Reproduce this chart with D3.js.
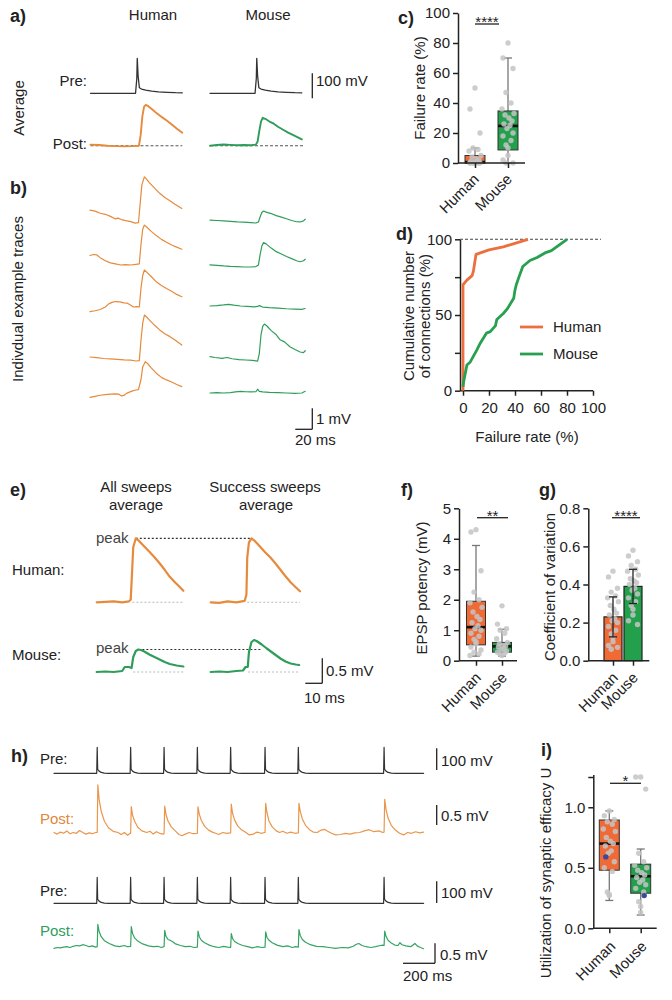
<!DOCTYPE html>
<html><head><meta charset="utf-8">
<script src="https://cdn.jsdelivr.net/npm/d3@7"></script>
<style>
body{margin:0;background:#fff;}
svg text{font-family:"Liberation Sans",Arial,Helvetica,sans-serif;fill:#222;}
</style></head><body>
<svg id="fig" width="672" height="1000"></svg>
<script>
// ---------------- DATA ----------------
const categories = ['Human','Mouse'];

// a) average traces [ms, mV]
const aPreHuman = [[0,0],[20,0],[40,0],[53,0],[54.5,60],[55,140],[56,70],[57.5,22],[60,17],[65,13],[72,9],[80,6],[90,4],[100,2.5],[108,2]];
const aPreMouse = [[0,0],[20,0],[40,0],[53,0],[54.5,60],[55,140],[56,70],[57.5,22],[60,17],[65,13],[72,9],[80,6],[90,4],[100,2.5],[108,2]];
const aPostHuman = [[0,0.05],[10,0.03],[20,0],[30,-0.02],[40,-0.03],[50,-0.02],[57,0],[59,0.5],[61,1.4],[63,1.85],[65,1.94],[68,1.88],[72,1.75],[78,1.54],[84,1.36],[90,1.19],[96,1.0],[102,0.8],[108,0.62]];
const aPostMouse = [[0,0],[8,0.03],[16,0.06],[24,0.04],[32,0.02],[40,0.03],[48,0.02],[54,0.05],[56,0.2],[58,0.7],[60,1.15],[62,1.33],[65,1.28],[70,1.15],[75,1.05],[80,0.9],[86,0.76],[92,0.62],[98,0.5],[104,0.38],[108,0.3]];

// b) individual traces [ms, mV]
const bHuman1 = [[0,0.6],[6,0.55],[12,0.45],[18,0.4],[24,0.3],[30,0.18],[33,0.22],[37,0.15],[42,0.1],[48,0.05],[53,-0.02],[57,0],[59,0.9],[61,1.8],[64,2.18],[66,2.1],[70,1.9],[76,1.65],[82,1.4],[88,1.2],[94,1.05],[100,0.88],[108,0.68]];
const bHuman2 = [[0,0.45],[4,0.5],[8,0.48],[12,0.35],[18,0.2],[24,0.1],[30,0.05],[36,0],[42,0.02],[48,0],[54,0.03],[58,0.05],[60,1.0],[62,1.7],[64,1.9],[67,1.8],[72,1.6],[78,1.4],[84,1.22],[90,1.08],[96,0.95],[102,0.85],[108,0.75]];
const bHuman3 = [[0,-0.22],[6,-0.18],[12,-0.12],[18,0],[22,0.15],[26,0.22],[30,0.26],[35,0.24],[40,0.2],[44,0.18],[48,0.08],[51,0],[55,0.02],[58,0],[60,0.9],[62,1.5],[64,1.76],[67,1.65],[72,1.45],[78,1.2],[84,1.02],[90,0.88],[96,0.75],[102,0.6],[108,0.49]];
const bHuman4 = [[0,0.19],[8,0.16],[16,0.12],[24,0.1],[32,0.08],[40,0.05],[48,0.04],[54,0],[58,0.02],[60,1.0],[62,1.8],[64,2.19],[66,2.12],[70,1.95],[76,1.7],[82,1.48],[88,1.3],[94,1.16],[100,1.0],[108,0.76]];
const bHuman5 = [[0,-0.35],[6,-0.3],[12,-0.25],[18,-0.22],[24,-0.2],[30,-0.18],[34,-0.2],[37,-0.28],[40,-0.26],[43,-0.16],[47,-0.09],[51,-0.03],[54,0],[57,0.02],[60,0.5],[62,1.1],[65,1.35],[68,1.25],[72,1.05],[78,0.8],[84,0.6],[90,0.48],[96,0.38],[102,0.26],[108,0.16]];
const bMouse1 = [[0,0.14],[8,0.12],[16,0.1],[24,0.08],[32,0.05],[40,0.04],[48,0.02],[54,0],[57,0.05],[59,0.3],[61,0.5],[63,0.57],[66,0.52],[72,0.45],[78,0.35],[84,0.28],[90,0.2],[96,0.12],[102,0.06],[106,0.05],[110,0.1],[112,0.18]];
const bMouse2 = [[0,0.1],[8,0.08],[16,0.05],[24,0.03],[32,0.02],[40,0],[48,0],[54,0.02],[57,0.1],[59,0.6],[61,1.0],[63,1.16],[66,1.1],[72,0.9],[78,0.73],[84,0.62],[90,0.5],[96,0.4],[102,0.3],[106,0.25],[110,0.3],[112,0.37]];
const bMouse3 = [[0,0],[8,0.02],[16,0.05],[22,0.08],[28,0.04],[36,0],[44,-0.02],[52,-0.04],[56,-0.02],[58,0.02],[62,-0.05],[70,-0.08],[80,-0.1],[90,-0.13],[100,-0.15],[108,-0.16],[112,-0.12]];
const bMouse4 = [[0,0.16],[6,0.12],[14,0.08],[20,0.12],[26,0.06],[34,0.02],[42,0],[50,-0.02],[56,-0.05],[58,0.3],[60,1.2],[62,1.6],[64,1.71],[67,1.62],[72,1.4],[78,1.2],[82,0.98],[88,0.85],[94,0.63],[100,0.5],[106,0.38],[110,0.35],[112,0.44]];
const bMouse5 = [[0,0],[8,0.02],[16,0],[24,0.02],[30,0.05],[36,0.08],[42,0.06],[48,0.05],[54,0.06],[56,0.18],[58,0.08],[62,0.05],[70,0.03],[80,0.02],[90,0],[100,-0.02],[108,0],[112,0.08]];

// c) failure rate (%)
const cHumanPts = [50,36,20,10,9,8,5,4,3,2,1,1,0,0,0,0,0,0,0,0];
const cMousePts = [80,70,63,47,40,36,33,32,30,28,26,25,23,20,18,15,12,10,5,2,0,0];
const cMin = [0,0], cQ1 = [0,8.7], cMed = [0.6,24.7], cQ3 = [5,34.7], cMax = [10,70];

// d) cumulative distributions [failure %, cumulative %]
const dHuman = [[0,0],[0,70],[3,73],[7,76],[8,79],[10,90],[20,93],[31,95],[50,100]];
const dMouse = [[0,2.6],[0.5,6],[3,17],[5.6,19],[10.7,27],[13,31],[18,38],[21,39],[25,43],[26,47],[31,51],[34,54],[39,61],[40,66.5],[41,70],[43,75],[46,82],[51.5,86],[57,88],[63,91],[68,92.5],[72,95],[80,100]];
const dXTicks = [0,20,40,60,80,100];
const dYTicks = [0,25,50,75,100];

// e) averages [ms, mV]
const eHumanAll = [[0,0],[5,0.01],[10,0.02],[15,0],[19,0.02],[20,0.05],[20.8,0.6],[21.5,1.1],[23,1.28],[24.5,1.24],[27,1.15],[31,1.01],[34,0.9],[37,0.78],[40,0.65],[43,0.51],[46,0.4],[49,0.3],[51,0.23]];
const eHumanSucc = [[0,0],[5,-0.01],[10,0.02],[15,0],[20,0.03],[21,0.15],[21.5,0.9],[22.5,1.2],[24,1.28],[25.5,1.24],[28,1.15],[32,1.0],[35,0.9],[38,0.78],[41,0.65],[44,0.52],[47,0.4],[50,0.3],[52.5,0.22]];
const eMouseAll = [[0,0],[5,0.01],[10,0],[15,0.02],[16.5,0.1],[19,0.1],[20.5,0.08],[21.5,0.3],[23,0.42],[24.5,0.45],[26,0.44],[28,0.41],[31,0.35],[34,0.3],[37,0.25],[40,0.2],[43,0.16],[47,0.13],[51,0.11]];
const eMouseSucc = [[0,0],[5,0.01],[10,0],[15,0.02],[19,0.03],[20.5,0.1],[21.8,0.1],[22.5,0.4],[24,0.6],[25.5,0.64],[27,0.62],[30,0.55],[33,0.47],[37,0.37],[41,0.27],[44,0.21],[47,0.17],[50,0.15],[52,0.14]];

// f) EPSP potency (mV)
const fHumanPts = [4.3,4.22,2.95,2.25,2.0,1.9,1.75,1.6,1.45,1.35,1.25,1.15,1.05,1.0,0.9,0.8,0.7,0.62,0.55,0.45,0.35,0.28,0.22,0.17];
const fMousePts = [1.8,1.2,1.05,1.0,0.9,0.72,0.6,0.55,0.5,0.48,0.45,0.4,0.36,0.32,0.28,0.25,0.2,0.17];
const fMin = [0.15,0.15], fQ1 = [0.52,0.28], fMed = [1.1,0.47], fQ3 = [1.95,0.6], fMax = [3.78,1.03];

// g) coefficient of variation
const gHumanPts = [0.47,0.44,0.38,0.36,0.34,0.33,0.31,0.29,0.27,0.25,0.24,0.22,0.21,0.2,0.18,0.16,0.14,0.12,0.1,0.08,0.07,0.06];
const gMousePts = [0.58,0.55,0.52,0.5,0.48,0.47,0.45,0.43,0.42,0.41,0.4,0.38,0.37,0.35,0.33,0.31,0.29,0.27,0.24,0.21,0.19];
const gMean = [0.23,0.39], gSD = [0.105,0.09];

// h) trains [ms, mV]
const hPre = [[0,0],
 [267,0],[270,120],[273,18],[282,10],[295,4],[315,1],[340,0],
 [476,0],[479,120],[482,18],[491,10],[504,4],[524,1],[549,0],
 [685,0],[688,120],[691,18],[700,10],[713,4],[733,1],[758,0],
 [893,0],[896,120],[899,18],[908,10],[921,4],[941,1],[966,0],
 [1101,0],[1104,120],[1107,18],[1116,10],[1129,4],[1149,1],[1174,0],
 [1316,0],[1319,120],[1322,18],[1331,10],[1344,4],[1364,1],[1389,0],
 [1524,0],[1527,120],[1530,18],[1539,10],[1552,4],[1572,1],[1597,0],
 [2060,0],[2063,120],[2066,18],[2075,10],[2088,4],[2108,1],[2133,0],[2310,0]];
const hPostHuman = [[0,0.02],[20,-0.02],[40,0.03],[60,0],[80,0.06],[100,-0.01],[120,0.02],[140,0],[160,0.07],[180,0.02],[200,-0.02],[220,0.01],[240,-0.01],[260,0.02],
 [270,0.02],[274,1.21],[282,0.85],[295,0.55],[315,0.3],[340,0.14],[370,0.05],[400,0.02],[420,-0.03],[440,0.02],[460,-0.05],[476,0],
 [479,0],[483,0.67],[491,0.45],[504,0.3],[524,0.15],[549,0.06],[580,0.02],[600,0.05],[620,-0.02],[640,0.04],[660,0],[685,-0.02],
 [688,0],[692,0.68],[700,0.47],[713,0.3],[733,0.16],[758,0.06],[780,-0.03],[800,-0.06],[820,-0.02],[845,0.02],[870,-0.01],[893,0],
 [896,0],[900,0.66],[908,0.48],[921,0.32],[941,0.18],[966,0.08],[990,0.03],[1010,0],[1030,-0.03],[1055,0.02],[1080,0],[1101,0.01],
 [1104,0.01],[1108,0.73],[1116,0.5],[1129,0.33],[1149,0.18],[1174,0.08],[1200,0.02],[1220,-0.04],[1245,-0.02],[1270,0.03],[1295,0],[1316,0.02],
 [1319,0.02],[1323,0.75],[1331,0.52],[1344,0.3],[1364,0.16],[1389,0.06],[1410,0.02],[1430,0.05],[1455,0],[1480,0.03],[1505,0],[1524,0.01],
 [1527,0.01],[1531,0.75],[1539,0.55],[1552,0.36],[1572,0.2],[1597,0.09],[1620,0.03],[1645,0.02],[1670,0.08],[1690,0.1],[1710,0.05],[1735,0],[1760,-0.04],[1790,-0.03],[1820,0],[1850,-0.02],[1880,0.01],[1910,0.02],[1940,0.06],[1970,0.09],[2000,0.04],[2030,0.06],[2055,0.02],
 [2063,0.03],[2067,0.85],[2075,0.6],[2088,0.38],[2108,0.2],[2133,0.08],[2160,0],[2185,-0.04],[2210,0.02],[2235,0],[2260,0.04],[2285,0.01],[2310,0.03]];
const hPostMouse = [[0,-0.02],[20,0],[40,-0.01],[60,0.01],[80,0.02],[100,0],[120,0.03],[140,0.05],[160,0.04],[180,0.07],[200,0.05],[220,0.02],[240,0.04],[260,0.01],
 [270,0.02],[274,0.58],[282,0.4],[295,0.27],[315,0.17],[345,0.1],[380,0.04],[410,0.02],[440,0.05],[460,0.02],[479,0.03],
 [483,0.52],[491,0.35],[504,0.24],[524,0.16],[554,0.09],[590,0.04],[620,0.02],[650,0.03],[670,0],[688,0.02],
 [692,0.43],[700,0.28],[713,0.2],[725,0.18],[740,0.15],[760,0.09],[790,0.05],[820,0.02],[850,0.03],[875,0],[896,0.01],
 [900,0.41],[908,0.27],[921,0.18],[941,0.12],[971,0.06],[1000,0.02],[1030,0],[1060,0.03],[1085,0.01],[1104,0],
 [1108,0.35],[1116,0.22],[1129,0.15],[1149,0.1],[1179,0.05],[1210,0.02],[1240,-0.01],[1270,0.02],[1300,0],[1319,0.01],
 [1323,0.39],[1331,0.25],[1344,0.18],[1364,0.12],[1394,0.06],[1430,0.02],[1460,0.04],[1490,0],[1510,0.02],[1527,0.01],
 [1531,0.45],[1539,0.3],[1552,0.2],[1572,0.13],[1602,0.07],[1640,0.03],[1680,0.02],[1720,0],[1760,-0.02],[1800,0],[1840,-0.01],[1870,0.03],[1890,0.08],[1905,0.1],[1925,0.05],[1950,0.02],[1980,0],[2010,0.02],[2040,0.05],[2055,0.06],[2063,0.05],
 [2067,0.41],[2075,0.28],[2088,0.18],[2108,0.11],[2130,0.06],[2150,0.05],[2162,0.12],[2175,0.07],[2200,0.04],[2230,0.02],[2256,0.1],[2270,0.04],[2290,0],[2310,-0.03]];

// i) utilization of synaptic efficacy U
const iHumanPts = [0.97,0.93,0.9,0.88,0.86,0.82,0.8,0.75,0.72,0.7,0.68,0.64,0.62,0.55,0.5,0.47,0.3,0.28,0.27];
const iMousePts = [1.25,1.25,1.15,0.62,0.55,0.52,0.5,0.48,0.46,0.44,0.42,0.4,0.38,0.36,0.33,0.3,0.22,0.18,0.13];
const iBlue = [0.59,0.27];
const iMin = [0.23,0.11], iQ1 = [0.48,0.29], iMed = [0.70,0.43], iQ3 = [0.895,0.53], iMax = [0.97,0.655];

// ---------------- DRAWING ----------------
const svg = d3.select('#fig');
const FF = '"Liberation Sans",Arial,Helvetica,sans-serif';
const ORANGE_T = '#e68a3b', GREEN_T = '#2f9d5a', DARK = '#333';
const FILL = {Human:'#f06a35', Mouse:'#22a04b'};
const CDFC = {Human:'#ec6f3d', Mouse:'#27a04f'};
const JIT = [0,-5,5,-2,3,-6,6,-3,1,4,-4,2,-1,5,-5,3,-2,0];

function txt(x,y,s,o={}){
  const t = svg.append('text').attr('x',x).attr('y',y).text(s).style('font-size',(o.size||15)+'px');
  if(o.anchor) t.attr('text-anchor',o.anchor);
  if(o.bold) t.style('font-weight','bold');
  if(o.fill) t.style('fill',o.fill);
  if(o.rot!=null) t.attr('transform',`rotate(${o.rot},${x},${y})`);
  return t;
}
function line(x1,y1,x2,y2,c,w,dash){
  const l = svg.append('line').attr('x1',x1).attr('y1',y1).attr('x2',x2).attr('y2',y2).attr('stroke',c).attr('stroke-width',w);
  if(dash) l.attr('stroke-dasharray',dash);
  return l;
}
function trace(data,xs,ys,color,w){
  svg.append('path').datum(data)
    .attr('d', d3.line().x(d=>xs(d[0])).y(d=>ys(d[1])))
    .attr('fill','none').attr('stroke',color).attr('stroke-width',w)
    .attr('stroke-linejoin','round').attr('stroke-linecap','round');
}
function styleAxis(g){
  g.attr('font-family',FF).attr('font-size',15);
  g.select('.domain').attr('stroke','#222').attr('stroke-width',1.5);
  g.selectAll('.tick line').attr('stroke','#222').attr('stroke-width',1.5);
  g.selectAll('.tick text').style('fill','#222');
}
function leftAxis(y,x,ticks,fmt){
  const g = svg.append('g').attr('transform',`translate(${x},0)`)
    .call(d3.axisLeft(y).tickValues(ticks).tickFormat(fmt).tickSize(5).tickSizeOuter(0).tickPadding(3));
  styleAxis(g); return g;
}
function catAxis(xs,y0,xStart,xEnd,lab){
  const g = svg.append('g').attr('transform',`translate(0,${y0})`)
    .call(d3.axisBottom(xs).tickSize(5).tickSizeOuter(0).tickFormat(''));
  g.select('.domain').remove();
  styleAxis(g);
  line(xStart,y0,xEnd,y0,'#222',1.5);
  categories.forEach(c=>{
    svg.append('text').attr('transform',`translate(${xs(c)+lab[0]},${y0+lab[1]}) rotate(-45)`)
      .attr('text-anchor','end').style('font-size','15px').text(c);
  });
}
function points(xs,y,c,vals,spread){
  svg.append('g').selectAll('circle').data(vals).join('circle')
    .attr('cx',(d,i)=>xs(c)+JIT[i%JIT.length]*spread).attr('cy',d=>y(d)).attr('r',2.7)
    .attr('fill','#c4c4c4').attr('opacity',0.85);
}
function boxes(xs,y,mn,q1,md,q3,mx,w){
  categories.forEach((c,i)=>{
    const cx = xs(c);
    line(cx,y(mn[i]),cx,y(mx[i]),'#777',1.3);
    line(cx-4,y(mx[i]),cx+4,y(mx[i]),'#777',1.3);
    line(cx-4,y(mn[i]),cx+4,y(mn[i]),'#777',1.3);
    svg.append('rect').attr('x',cx-w/2).attr('y',y(q3[i])).attr('width',w)
      .attr('height',Math.max(1,y(q1[i])-y(q3[i]))).attr('fill',FILL[c]).attr('stroke','#333').attr('stroke-width',1);
    line(cx-w/2,y(md[i]),cx+w/2,y(md[i]),'#111',2.6);
  });
}
function sig(x1,x2,yy,s){
  line(x1,yy,x2,yy,'#222',1.3);
  txt((x1+x2)/2,yy+3,s,{anchor:'middle',size:15});
}

// ===== a) =====
txt(10,22,'a)',{bold:true,size:18});
txt(153,20,'Human',{anchor:'middle'});
txt(268,20,'Mouse',{anchor:'middle'});
txt(24,108,'Average',{anchor:'middle',rot:-90});
txt(87,86,'Pre:',{anchor:'end'});
txt(87,149,'Post:',{anchor:'end'});
const aXH = d3.scaleLinear().domain([0,108]).range([90.5,182.3]);
const aXM = d3.scaleLinear().domain([0,108]).range([210,301.8]);
const aYPre = d3.scaleLinear().domain([0,100]).range([93.3,68.3]);
const aYPost = d3.scaleLinear().domain([0,1]).range([145.7,124.7]);
line(aXH(0),aYPost(0),aXH(108),aYPost(0),'#555',1.1,'3,2');
line(aXM(0),aYPost(0),aXM(110),aYPost(0),'#555',1.1,'3,2');
trace(aPreHuman,aXH,aYPre,DARK,1.3);
trace(aPreMouse,aXM,aYPre,DARK,1.3);
trace(aPostHuman,aXH,aYPost,ORANGE_T,1.9);
trace(aPostMouse,aXM,aYPost,GREEN_T,1.9);
line(312.3,aYPre(-20),312.3,aYPre(80),'#222',1.3);
txt(316,86,'100 mV');

// ===== b) =====
txt(10,194,'b)',{bold:true,size:18});
txt(23,299,'Indivdual example traces',{anchor:'middle',rot:-90});
const bXH = d3.scaleLinear().domain([0,108]).range([90,181.8]);
const bXM = d3.scaleLinear().domain([0,112]).range([210,305.2]);
const rowH = [222.7,265,307,361,390], rowM = [223,267,306,360,393];
[bHuman1,bHuman2,bHuman3,bHuman4,bHuman5].forEach((d,i)=>{
  trace(d,bXH,d3.scaleLinear().domain([0,1]).range([rowH[i],rowH[i]-21]),ORANGE_T,1.2);
});
[bMouse1,bMouse2,bMouse3,bMouse4,bMouse5].forEach((d,i)=>{
  trace(d,bXM,d3.scaleLinear().domain([0,1]).range([rowM[i],rowM[i]-21]),GREEN_T,1.2);
});
const bYS = d3.scaleLinear().domain([0,1]).range([429.3,408.3]);
line(312.3,bYS(0),312.3,bYS(1),'#222',1.3);
line(312.3-(bXH(20)-bXH(0)),bYS(0),312.3,bYS(0),'#222',1.3);
txt(316,424,'1 mV');
txt(295,445,'20 ms');

// ===== c) =====
txt(398,24,'c)',{bold:true,size:18});
const cY = d3.scaleLinear().domain([0,100]).range([163,13]);
const cX = d3.scalePoint().domain(categories).range([475,508]);
boxes(cX,cY,cMin,cQ1,cMed,cQ3,cMax,20);
points(cX,cY,'Human',cHumanPts,1);
points(cX,cY,'Mouse',cMousePts,1);
leftAxis(cY,458,[0,20,40,60,80,100],d3.format('d'));
catAxis(cX,163,458,525,[5,17]);
txt(425,88,'Failure rate (%)',{anchor:'middle',rot:-90});
sig(475,499,24,'****');

// ===== d) =====
txt(396,240,'d)',{bold:true,size:18});
const dX = d3.scaleLinear().domain([0,100]).range([463,593]);
const dY = d3.scaleLinear().domain([0,100]).range([390.7,239.3]);
line(460,dY(100),601,dY(100),'#444',1.1,'3,2');
const gdY = svg.append('g').attr('transform','translate(460,0)')
  .call(d3.axisLeft(dY).tickValues(dYTicks).tickFormat(d=>d%50===0?d:'').tickSize(5).tickSizeOuter(0).tickPadding(3));
styleAxis(gdY);
const gdX = svg.append('g').attr('transform',`translate(0,${dY(0)})`)
  .call(d3.axisBottom(dX).tickValues(dXTicks).tickSize(5).tickSizeOuter(0).tickPadding(7));
styleAxis(gdX);
gdX.select('.domain').attr('d',`M460,0H593`);
const dLine = d3.line().x(d=>dX(d[0])).y(d=>dY(d[1]));
svg.append('path').datum(dHuman).attr('d',dLine).attr('fill','none').attr('stroke',CDFC.Human).attr('stroke-width',2.8).attr('stroke-linejoin','round');
svg.append('path').datum(dMouse).attr('d',dLine).attr('fill','none').attr('stroke',CDFC.Mouse).attr('stroke-width',2.8).attr('stroke-linejoin','round');
line(520,327,543,327,CDFC.Human,2.8); txt(553,332,'Human');
line(520,354,543,354,CDFC.Mouse,2.8); txt(553,359,'Mouse');
txt(414,316,'Cumulative number',{anchor:'middle',rot:-90});
txt(430,316,'of connections (%)',{anchor:'middle',rot:-90});
txt(527,442,'Failure rate (%)',{anchor:'middle'});

// ===== e) =====
txt(10,496,'e)',{bold:true,size:18});
txt(136,492,'All sweeps',{anchor:'middle'});
txt(136,510,'average',{anchor:'middle'});
txt(265,492,'Success sweeps',{anchor:'middle'});
txt(266,510,'average',{anchor:'middle'});
txt(12,575,'Human:');
txt(12,660,'Mouse:');
const eXA = d3.scaleLinear().domain([0,10]).range([96.7,113.7]);
const eXS = d3.scaleLinear().domain([0,10]).range([210.7,227.7]);
const eYH = d3.scaleLinear().domain([0,1]).range([602.3,552.3]);
const eYM = d3.scaleLinear().domain([0,1]).range([672,622]);
line(eXA(21),eYH(0),eXA(51),eYH(0),'#bbb',1.1,'2,2');
line(eXS(21.5),eYH(0),eXS(52.5),eYH(0),'#bbb',1.1,'2,2');
line(eXA(21.5),eYM(0),eXA(51),eYM(0),'#bbb',1.1,'2,2');
line(eXS(22),eYM(0),eXS(52),eYM(0),'#bbb',1.1,'2,2');
line(eXA(23),eYH(1.28),eXS(24),eYH(1.28),'#333',1.2,'2,2');
line(eXA(24.5),eYM(0.45),eXS(30),eYM(0.45),'#333',1.2,'2,2');
trace(eHumanAll,eXA,eYH,ORANGE_T,2.2);
trace(eHumanSucc,eXS,eYH,ORANGE_T,2.2);
trace(eMouseAll,eXA,eYM,GREEN_T,2.2);
trace(eMouseSucc,eXS,eYM,GREEN_T,2.2);
txt(96,543,'peak',{fill:'#444'});
txt(96,653,'peak',{fill:'#444'});
const eYS = d3.scaleLinear().domain([0,0.5]).range([683.3,658.3]);
line(322.3,eYS(0),322.3,eYS(0.5),'#222',1.3);
line(322.3-(eXA(10)-eXA(0)),eYS(0),322.3,eYS(0),'#222',1.3);
txt(326,676,'0.5 mV');
txt(304,703,'10 ms');

// ===== f) =====
txt(401,496,'f)',{bold:true,size:18});
const fY = d3.scaleLinear().domain([0,5]).range([660.7,508.3]);
const fX = d3.scalePoint().domain(categories).range([476,502]);
boxes(fX,fY,fMin,fQ1,fMed,fQ3,fMax,19);
points(fX,fY,'Human',fHumanPts,1);
points(fX,fY,'Mouse',fMousePts,0.9);
leftAxis(fY,459,[0,1,2,3,4,5],d3.format('d'));
catAxis(fX,660.7,459,517,[6,18]);
txt(427,588,'EPSP potency (mV)',{anchor:'middle',rot:-90});
sig(477,508,517.7,'**');

// ===== g) =====
txt(539,496,'g)',{bold:true,size:18});
const gY = d3.scaleLinear().domain([0,0.8]).range([660.7,508.3]);
const gX = d3.scalePoint().domain(categories).range([613,633]);
categories.forEach((c,i)=>{
  svg.append('rect').attr('x',gX(c)-9).attr('y',gY(gMean[i])).attr('width',18)
    .attr('height',gY(0)-gY(gMean[i])).attr('fill',FILL[c]).attr('stroke','#222').attr('stroke-width',1.2);
});
points(gX,gY,'Human',gHumanPts,0.9);
points(gX,gY,'Mouse',gMousePts,0.9);
categories.forEach((c,i)=>{
  const cx = gX(c);
  line(cx,gY(gMean[i]-gSD[i]),cx,gY(gMean[i]+gSD[i]),'#222',1.3);
  line(cx-4,gY(gMean[i]+gSD[i]),cx+4,gY(gMean[i]+gSD[i]),'#222',1.3);
  line(cx-4,gY(gMean[i]-gSD[i]),cx+4,gY(gMean[i]-gSD[i]),'#222',1.3);
});
leftAxis(gY,588.3,[0,0.2,0.4,0.6,0.8],d3.format('.1f'));
catAxis(gX,660.7,588.3,649.3,[6,18]);
txt(555,587,'Coefficient of variation',{anchor:'middle',rot:-90});
sig(612,640,517.7,'****');

// ===== h) =====
txt(11,762,'h)',{bold:true,size:18});
const hX = d3.scaleLinear().domain([0,2310]).range([54,423.6]);
const hYPre1 = d3.scaleLinear().domain([0,100]).range([773.3,751.6]);
const hYPost1 = d3.scaleLinear().domain([0,1]).range([833.3,793.3]);
const hYPre2 = d3.scaleLinear().domain([0,100]).range([903.3,881.6]);
const hYPost2 = d3.scaleLinear().domain([0,1]).range([947.5,907.5]);
txt(40,764,'Pre:');
txt(40,824,'Post:',{fill:'#e0883c'});
txt(40,896,'Pre:');
txt(40,936,'Post:',{fill:'#2f9d5e'});
trace(hPre,hX,hYPre1,DARK,1.2);
trace(hPostHuman,hX,hYPost1,'#e9964c',1.2);
trace(hPre,hX,hYPre2,DARK,1.2);
trace(hPostMouse,hX,hYPost2,'#35a463',1.2);
const hS1 = d3.scaleLinear().domain([0,100]).range([770,748.3]);
line(436.7,hS1(0),436.7,hS1(100),'#222',1.3); txt(441,766,'100 mV');
const hS2 = d3.scaleLinear().domain([0,0.5]).range([825,805]);
line(436.7,hS2(0),436.7,hS2(0.5),'#222',1.3); txt(441,821,'0.5 mV');
const hS3 = d3.scaleLinear().domain([0,100]).range([903,881.3]);
line(436.7,hS3(0),436.7,hS3(100),'#222',1.3); txt(441,898,'100 mV');
const hS4 = d3.scaleLinear().domain([0,0.5]).range([963.3,943.3]);
line(435,hS4(0),435,hS4(0.5),'#222',1.3);
line(435-(hX(200)-hX(0)),hS4(0),435,hS4(0),'#222',1.3);
txt(440,960,'0.5 mV');
txt(403,981,'200 ms');

// ===== i) =====
txt(541,756,'i)',{bold:true,size:18});
const iY = d3.scaleLinear().domain([0,1.27]).range([928.3,774.6]);
const iX = d3.scalePoint().domain(categories).range([609.3,640.7]);
boxes(iX,iY,iMin,iQ1,iMed,iQ3,iMax,20);
points(iX,iY,'Human',iHumanPts,1);
points(iX,iY,'Mouse',iMousePts,1);
svg.append('circle').attr('cx',iX('Human')-3.5).attr('cy',iY(iBlue[0])).attr('r',2.7).attr('fill','#3b4a9c');
svg.append('circle').attr('cx',iX('Mouse')+3.5).attr('cy',iY(iBlue[1])).attr('r',2.7).attr('fill','#3b4a9c');
leftAxis(iY,593.3,[0,0.5,1,1.25],d=>d===1.25?'':d3.format('.1f')(d));
catAxis(iX,928.3,593.3,656.7,[7,19]);
txt(551,873,'Utilization of synaptic efficacy U',{anchor:'middle',rot:-90});
sig(610,641,783.3,'*');
</script>
</body></html>
